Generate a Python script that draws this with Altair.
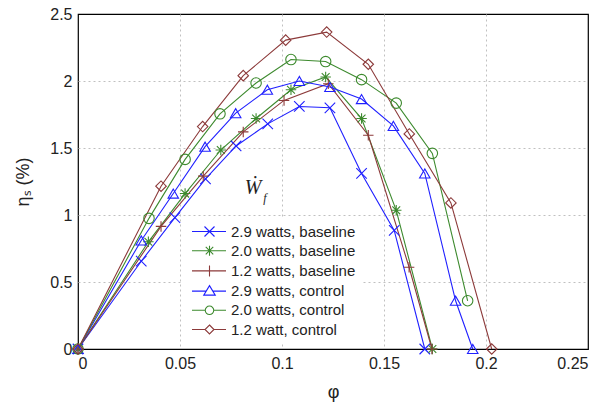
import altair as alt
import pandas as pd

series_names = [
    "2.9 watts, baseline",
    "2.0 watts, baseline",
    "1.2 watts, baseline",
    "2.9 watts, control",
    "2.0 watts, control",
    "1.2 watt, control",
]
colors = ["#2020ff", "#3d8a2e", "#8c3a3a", "#2020ff", "#3d8a2e", "#8c3a3a"]

phi_29b = [0, 0.031, 0.0475, 0.0625, 0.0775, 0.093, 0.1085, 0.1235, 0.139, 0.155, 0.170]
eta_29b = [0, 0.655, 0.98, 1.27, 1.515, 1.68, 1.81, 1.80, 1.31, 0.885, 0]

phi_20b = [0, 0.0345, 0.0525, 0.070, 0.0873, 0.1044, 0.1214, 0.139, 0.156, 0.1737]
eta_20b = [0, 0.80, 1.16, 1.485, 1.72, 1.935, 2.03, 1.72, 1.035, 0]

phi_12b = [0, 0.0407, 0.0614, 0.081, 0.101, 0.1227, 0.1423, 0.1623, 0.1735]
eta_12b = [0, 0.915, 1.29, 1.62, 1.855, 1.98, 1.595, 0.61, 0]

phi_29c = [0, 0.031, 0.0467, 0.0623, 0.0773, 0.0928, 0.1085, 0.1235, 0.139, 0.1546, 0.170, 0.1851, 0.1935]
eta_29c = [0, 0.81, 1.16, 1.51, 1.76, 1.935, 2.0, 1.955, 1.865, 1.665, 1.31, 0.36, 0]

phi_20c = [0, 0.0348, 0.0525, 0.0696, 0.0873, 0.1044, 0.1214, 0.139, 0.156, 0.1737, 0.191]
eta_20c = [0, 0.975, 1.415, 1.755, 1.985, 2.16, 2.145, 2.01, 1.835, 1.46, 0.36]

phi_12c = [0, 0.0407, 0.0611, 0.081, 0.1018, 0.1219, 0.1423, 0.1624, 0.1828, 0.2028]
eta_12c = [0, 1.215, 1.66, 2.04, 2.305, 2.365, 2.125, 1.605, 1.09, 0]

x_ticks = [0, 0.05, 0.1, 0.15, 0.2, 0.25]
y_ticks = [0, 0.5, 1, 1.5, 2, 2.5]

annot_phi = [0.0858]
annot_eta = [1.2]

all_phi = [phi_29b, phi_20b, phi_12b, phi_29c, phi_20c, phi_12c]
all_eta = [eta_29b, eta_20b, eta_12b, eta_29c, eta_20c, eta_12c]

rows = []
for k, (name, ps, es) in enumerate(zip(series_names, all_phi, all_eta)):
    for i, (p, e) in enumerate(zip(ps, es)):
        rows.append({"series": name, "phi": p, "eta": e, "idx": i, "k": k})
df = pd.DataFrame(rows)
annot = pd.DataFrame({"phi": annot_phi, "eta": annot_eta})

# marker shapes for the plot
marker_paths = [
    "M-1,-1L1,1M-1,1L1,-1",
    "M-1,0L1,0M0,-1L0,1M-0.75,-0.75L0.75,0.75M-0.75,0.75L0.75,-0.75",
    "M-1,0L1,0M0,-1L0,1",
    "triangle-up",
    "circle",
    "diamond",
]
marker_sizes = [110, 110, 140, 140, 100, 80]

# legend symbols: line + marker (1 unit = 5 px at symbolSize 100)
legend_paths = [
    "M-3.5,0L3.3,0M-1,-1L1,1M-1,1L1,-1",
    "M-3.5,0L3.3,0M0,-1L0,1M-0.75,-0.75L0.75,0.75M-0.75,0.75L0.75,-0.75",
    "M-3.5,0L3.3,0M0,-1.1L0,1.1",
    "M-3.5,0L-0.65,0M0.65,0L3.3,0M0,-1.1L1.15,0.8L-1.15,0.8Z",
    "M-3.5,0L-0.85,0M0.85,0L3.3,0M0.85,0A0.85,0.85 0 1,1 -0.85,0A0.85,0.85 0 1,1 0.85,0",
    "M-3.5,0L-0.9,0M0.9,0L3.3,0M0,-0.9L0.9,0L0,0.9L-0.9,0Z",
]

x_grid_op = {"condition": {"test": "datum.value <= 0 || datum.value >= 0.25", "value": 0}, "value": 1}
y_grid_op = {"condition": {"test": "datum.value <= 0 || datum.value >= 2.5", "value": 0}, "value": 1}

xs = alt.X("phi:Q", scale=alt.Scale(domain=[0, 0.25], nice=False, zero=False),
           axis=alt.Axis(values=x_ticks, format="~g", title="φ", grid=True, ticks=False,
                         gridOpacity=x_grid_op,
                         domain=False, labelPadding=6, titlePadding=12))
ys = alt.Y("eta:Q", scale=alt.Scale(domain=[0, 2.5], nice=False),
           axis=alt.Axis(values=y_ticks, format="~g", title="ηₛ (%)", grid=True, ticks=False,
                         gridOpacity=y_grid_op,
                         domain=False, labelPadding=6, titlePadding=17))

col_plain = alt.Color("series:N", scale=alt.Scale(domain=series_names, range=colors), legend=None)

lines = alt.Chart(df).mark_line(strokeWidth=1.1).encode(
    x=xs, y=ys, color=col_plain, detail="series:N", order="idx:Q"
)

points = alt.Chart(df).mark_point(filled=False, strokeWidth=1.1, opacity=1).encode(
    x=alt.X("phi:Q"), y=alt.Y("eta:Q"),
    color=col_plain,
    shape=alt.Shape("series:N", scale=alt.Scale(domain=series_names, range=marker_paths), legend=None),
    size=alt.Size("series:N", scale=alt.Scale(domain=series_names, range=marker_sizes), legend=None),
)

legend_layer = alt.Chart(df).transform_filter("false").mark_point(filled=False, strokeWidth=1.1, opacity=1).encode(
    x=alt.X("phi:Q"), y=alt.Y("eta:Q"),
    color=alt.Color("series:N", scale=alt.Scale(domain=series_names, range=colors),
                    legend=alt.Legend(
                        title=None, orient="none", legendX=104, legendY=204,
                        fillColor="white", padding=6, rowPadding=3.2,
                        labelFontSize=15, labelColor="#222", labelFont="Liberation Sans",
                        symbolSize=100, symbolStrokeWidth=1.1, symbolOffset=14,
                        labelOffset=14, labelLimit=300,
                    )),
    shape=alt.Shape("series:N", scale=alt.Scale(domain=series_names, range=legend_paths)),
)

w_text = alt.Chart(annot).mark_text(
    text="Ẇ", font="Liberation Serif", fontStyle="italic", fontSize=20, color="#222"
).encode(x=alt.X("phi:Q"), y=alt.Y("eta:Q"))
f_text = alt.Chart(annot).mark_text(
    text="f", font="Liberation Serif", fontStyle="italic", fontSize=12, color="#222", dx=12, dy=10
).encode(x=alt.X("phi:Q"), y=alt.Y("eta:Q"))

chart = alt.layer(lines, points, legend_layer, w_text, f_text).resolve_scale(
    color="independent", shape="independent", size="independent"
).properties(
    width=510, height=335,
    background="white",
    autosize=alt.AutoSizeParams(type="none"),
    padding={"left": 78, "top": 14, "right": 17, "bottom": 58},
).configure_view(
    stroke="#000", strokeWidth=1.2
).configure_axis(
    gridColor="#c0c0c0", gridDash=[2, 3], gridWidth=1,
    labelFont="Liberation Sans", labelFontSize=16, labelColor="#222",
    titleFont="Liberation Sans", titleFontSize=18, titleColor="#222", titleFontWeight="normal",
)

chart.save("out.html", embed_options={"renderer": "svg", "actions": False})
